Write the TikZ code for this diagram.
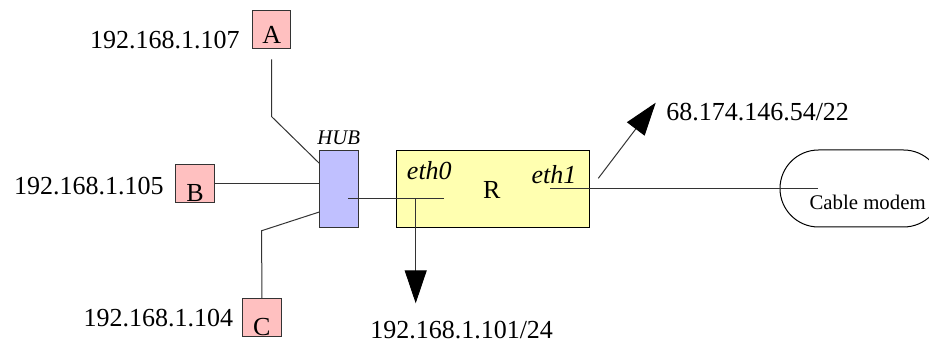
\documentclass[tikz,border=0pt]{standalone}
\usepackage{fontspec}
\setmainfont{Liberation Serif}
\usetikzlibrary{arrows.meta,shapes.misc}
\definecolor{hostpink}{HTML}{FFC0C0}
\definecolor{hubblue}{HTML}{C0C0FF}
\definecolor{routeryellow}{HTML}{FFFFB0}
\definecolor{edge}{HTML}{333333}
\tikzset{
  big/.style={font=\fontsize{19.5}{23}\selectfont, inner sep=0pt},
  small/.style={font=\fontsize{15.6}{18}\selectfont, inner sep=0pt},
  hostbox/.style={draw=edge, fill=hostpink, line width=0.75pt, minimum width=38.5*0.75pt, minimum height=38.5*0.75pt, inner sep=0pt},
  hubbox/.style={draw=edge, fill=hubblue, line width=0.75pt, minimum width=39*0.75pt, minimum height=77*0.75pt, inner sep=0pt},
  routerbox/.style={draw=black, fill=routeryellow, line width=0.75pt, minimum width=193*0.75pt, minimum height=77*0.75pt, inner sep=0pt},
  modembox/.style={draw=black, rounded rectangle, line width=0.75pt, minimum width=162*0.75pt, minimum height=77*0.75pt, inner sep=0pt},
  wire/.style={draw=edge, line width=0.75pt},
  bigarrow/.style={wire, -{Triangle[length=24.75pt, width=16.5pt, fill=black, color=black]}}
}
\begin{document}
\begin{tikzpicture}[x=0.75pt, y=-0.75pt]
\useasboundingbox (0,0) rectangle (929,345);
\clip (0,0) rectangle (929,345);
% boxes
\node[hostbox] (A) at (271.7,29.7) {};
\node[hostbox] (B) at (195,183.3) {};
\node[hostbox] (C) at (261.8,317.7) {};
\node[hubbox] (hub) at (338.8,188.7) {};
\node[routerbox] (R) at (492.5,188.7) {};
\node[modembox] (modem) at (861,188.5) {};
% texts in boxes
\node[big, anchor=base] (Atxt) at (271.7,43.5) {A};
\node[big, anchor=base] (Btxt) at (195,201.5) {B};
\node[big, anchor=base] (Ctxt) at (261.8,336) {C};
\node[big, anchor=base] (Rtxt) at (491.7,198.3) {R};
\node[big, anchor=base west] (eth0) at (406.7,179.3) {\itshape eth0};
\node[big, anchor=base east] (eth1) at (576.7,183.3) {\itshape eth1};
\node[small, anchor=base] (hubtxt) at (338.8,145) {\itshape HUB};
\node[small, anchor=base west] (modemtxt) at (809.3,210) {Cable modem};
% address labels
\node[big, anchor=base east] (ipA) at (240,48.3) {192.168.1.107};
\node[big, anchor=base east] (ipB) at (164,195) {192.168.1.105};
\node[big, anchor=base east] (ipC) at (233.3,326.7) {192.168.1.104};
\node[big, anchor=base west] (ip0) at (370,338.3) {192.168.1.101/24};
\node[big, anchor=base west] (ip1) at (666,121) {68.174.146.54/22};
% connector points
\coordinate (hubA) at (319.3,163.3);
\coordinate (hubB) at (319.3,183.3);
\coordinate (hubC) at (319.3,212);
\coordinate (hubIn) at (348.3,198.5);
\coordinate (eth0end) at (444,198.5);
\coordinate (eth0drop) at (415.7,198.5);
\coordinate (down) at (415.7,303.3);
\coordinate (eth1end) at (550,188.5);
\coordinate (modemIn) at (818,188.5);
\coordinate (upstart) at (598.3,178.3);
\coordinate (uptip) at (655.7,102.7);
% wires
\draw[wire, shorten <=7.5pt] (A.south) -- (271.7,116.7) -- (hubA);
\draw[wire] (B.east) -- (hubB);
\draw[wire] (C.north) -- (261.7,230.7) -- (hubC);
\draw[wire] (hubIn) -- (eth0end);
\draw[bigarrow] (eth0drop) -- (down);
\draw[wire] (eth1end) -- (modemIn);
\draw[bigarrow] (upstart) -- (uptip);
\end{tikzpicture}
\end{document}
